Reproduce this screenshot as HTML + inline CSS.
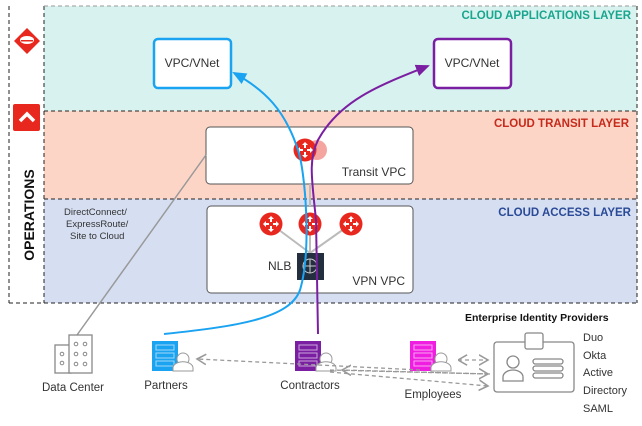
<!DOCTYPE html>
<html><head><style>
body{margin:0;width:642px;height:421px;background:#fff;overflow:hidden;font-family:"Liberation Sans",sans-serif;}
</style></head><body>
<svg width="642" height="421" viewBox="0 0 642 421" xmlns="http://www.w3.org/2000/svg" font-family="Liberation Sans, sans-serif">
<defs>
<marker id="ab" markerWidth="8" markerHeight="8" refX="6" refY="4" orient="auto"><path d="M0,1 L7,4 L0,7 Z" fill="#1aa3f0"/></marker>
<marker id="ap" markerWidth="8" markerHeight="8" refX="6" refY="4" orient="auto"><path d="M0,1 L7,4 L0,7 Z" fill="#7b1fa2"/></marker>
<marker id="ag" markerWidth="10" markerHeight="10" refX="7" refY="5" orient="auto"><path d="M0,1 L7,5 L0,9" fill="none" stroke="#999" stroke-width="1.2"/></marker>
<marker id="agr" markerWidth="10" markerHeight="10" refX="0" refY="5" orient="auto"><path d="M7,1 L0,5 L7,9" fill="none" stroke="#999" stroke-width="1.2"/></marker>
<g id="rt"><circle r="11.5" fill="#e8281e"/><g fill="#fff"><path d="M0,-8 l-3,3 h6z M0,8 l-3,-3 h6z M-8,0 l3,-3 v6z M8,0 l-3,-3 v6z"/><rect x="-1" y="-6" width="2" height="4"/><rect x="-1" y="2" width="2" height="4"/><rect x="-6" y="-1" width="4" height="2"/><rect x="2" y="-1" width="4" height="2"/></g></g>
<g id="srv"><rect x="0" y="0" width="26" height="30" fill="currentColor"/><g fill="none" stroke="#fff" stroke-opacity=".6" stroke-width="1"><rect x="4" y="4" width="18" height="5"/><rect x="4" y="12" width="18" height="5"/><rect x="4" y="20" width="18" height="5"/></g><circle cx="31" cy="18" r="6" fill="#fff" stroke="#999"/><path d="M21,30 v-3 a8,5 0 0 1 20,0 v3z" fill="#fff" stroke="#999"/></g>
</defs>
<rect x="44" y="6" width="593" height="105" fill="#d8f2ef"/>
<rect x="44" y="111" width="593" height="88" fill="#fcd5c6"/>
<rect x="44" y="199" width="593" height="104" fill="#d6dff2"/>
<g fill="none" stroke="#222" stroke-width="1" stroke-dasharray="4,3">
<line x1="9" y1="6" x2="9" y2="303"/><line x1="44" y1="6" x2="44" y2="303"/>
<line x1="44" y1="6" x2="637" y2="6" stroke="#999"/><line x1="637" y1="6" x2="637" y2="303"/>
<line x1="44" y1="111" x2="637" y2="111"/><line x1="44" y1="199" x2="637" y2="199"/>
<line x1="9" y1="303" x2="637" y2="303"/>
</g>
<path d="M27,28 L40,41 L27,54 L14,41Z" fill="#e8281e"/><ellipse cx="27" cy="40" rx="7" ry="4" fill="#fff"/><rect x="21" y="40" width="12" height="1.5" fill="#e8281e"/>
<rect x="13" y="104" width="27" height="27" rx="2" fill="#e8281e"/><path d="M20,121 l7,-7 l7,7" fill="none" stroke="#fff" stroke-width="3.5"/>
<text transform="translate(34,215) rotate(-90)" text-anchor="middle" font-size="14" font-weight="bold" fill="#111">OPERATIONS</text>
<text x="631" y="19" text-anchor="end" font-size="11.5" font-weight="bold" fill="#1aa58e">CLOUD APPLICATIONS LAYER</text>
<text x="629" y="127" text-anchor="end" font-size="11.5" font-weight="bold" fill="#c62a1b">CLOUD TRANSIT LAYER</text>
<text x="631" y="216" text-anchor="end" font-size="11.5" font-weight="bold" fill="#2a4a97">CLOUD ACCESS LAYER</text>
<rect x="154" y="39" width="77" height="49" rx="4" fill="#fff" stroke="#1aa3f0" stroke-width="2.5"/>
<text x="192" y="67" text-anchor="middle" font-size="12" fill="#333">VPC/VNet</text>
<rect x="434" y="39" width="77" height="49" rx="4" fill="#fff" stroke="#7b1fa2" stroke-width="2.5"/>
<text x="472" y="67" text-anchor="middle" font-size="12" fill="#333">VPC/VNet</text>
<rect x="206" y="127" width="207" height="57" rx="4" fill="#fff" stroke="#555"/>
<text x="406" y="176" text-anchor="end" font-size="12" fill="#333">Transit VPC</text>
<rect x="207" y="206" width="206" height="87" rx="4" fill="#fff" stroke="#555"/>
<text x="405" y="285" text-anchor="end" font-size="12" fill="#333">VPN VPC</text>
<text x="64" y="215" font-size="9.5" fill="#333">DirectConnect/</text>
<text x="66" y="227" font-size="9.5" fill="#333">ExpressRoute/</text>
<text x="70" y="239" font-size="9.5" fill="#333">Site to Cloud</text>
<line x1="77" y1="335" x2="206" y2="155" stroke="#999" stroke-width="1.5"/>
<g stroke="#bbb" stroke-width="2"><line x1="271" y1="224" x2="310" y2="253"/><line x1="351" y1="224" x2="310" y2="253"/><line x1="310" y1="224" x2="310" y2="253"/><line x1="310" y1="184" x2="310" y2="206"/></g>
<circle cx="317" cy="150" r="10" fill="#f4a5a0"/>
<use href="#rt" x="305" y="150"/>
<use href="#rt" x="271" y="224"/><use href="#rt" x="310" y="224"/><use href="#rt" x="351" y="224"/>
<rect x="297" y="253" width="27" height="27" fill="#232f3e"/><circle cx="310" cy="266" r="7" fill="none" stroke="#ccc"/><path d="M303,266 h14 M310,259 v14" stroke="#ccc"/>
<text x="268" y="270" font-size="12" fill="#333">NLB</text>
<path d="M164,334 C240,326 290,318 300,290 C312,250 305,170 298,150 C285,110 265,90 234,73" fill="none" stroke="#1aa3f0" stroke-width="2" marker-end="url(#ab)"/>
<path d="M318,334 L316,220 C312,180 308,160 318,140 C340,100 380,85 428,66" fill="none" stroke="#7b1fa2" stroke-width="2" marker-end="url(#ap)"/>
<g fill="#fff" stroke="#888" stroke-width="1.3"><rect x="55" y="345" width="16" height="28"/><rect x="69" y="335" width="23" height="38"/></g>
<g fill="none" stroke="#888"><circle cx="62" cy="354" r="1.8"/><circle cx="62" cy="363" r="1.8"/><circle cx="76" cy="344" r="1.8"/><circle cx="85" cy="344" r="1.8"/><circle cx="76" cy="354" r="1.8"/><circle cx="85" cy="354" r="1.8"/><circle cx="76" cy="364" r="1.8"/><circle cx="85" cy="364" r="1.8"/></g>
<text x="73" y="391" text-anchor="middle" font-size="11.5" fill="#333">Data Center</text>
<use href="#srv" x="152" y="341" style="color:#1aa3f0"/>
<text x="166" y="389" text-anchor="middle" font-size="11.5" fill="#333">Partners</text>
<use href="#srv" x="295" y="341" style="color:#7b1fa2"/>
<text x="310" y="389" text-anchor="middle" font-size="11.5" fill="#333">Contractors</text>
<use href="#srv" x="410" y="341" style="color:#f01ee0"/>
<text x="433" y="398" text-anchor="middle" font-size="11.5" fill="#333">Employees</text>
<g fill="none" stroke="#999" stroke-width="1.3" stroke-dasharray="4,3">
<line x1="420" y1="370" x2="197" y2="359" marker-end="url(#ag)"/>
<line x1="490" y1="374" x2="342" y2="370" marker-end="url(#ag)"/>
<line x1="330" y1="370" x2="488" y2="374" marker-end="url(#ag)"/>
<line x1="330" y1="372" x2="488" y2="386" marker-end="url(#ag)"/>
<line x1="458" y1="360" x2="488" y2="360" marker-start="url(#agr)" marker-end="url(#ag)"/>
</g>
<rect x="494" y="342" width="80" height="50" rx="3" fill="#fff" stroke="#888" stroke-width="1.3"/>
<rect x="525" y="333" width="18" height="16" rx="2" fill="#fff" stroke="#888" stroke-width="1.3"/>
<circle cx="513" cy="362" r="6" fill="none" stroke="#888" stroke-width="1.3"/>
<path d="M503,381 v-4 a10,7 0 0 1 20,0 v4z" fill="none" stroke="#888" stroke-width="1.3"/>
<g fill="none" stroke="#888" stroke-width="1.3"><rect x="533" y="359" width="30" height="5" rx="2.5"/><rect x="533" y="366" width="30" height="5" rx="2.5"/><rect x="533" y="373" width="30" height="5" rx="2.5"/></g>
<text x="465" y="321" font-size="10.5" font-weight="bold" fill="#111">Enterprise Identity Providers</text>
<g font-size="11" fill="#333"><text x="583" y="341">Duo</text><text x="583" y="359">Okta</text><text x="583" y="376">Active</text><text x="583" y="394">Directory</text><text x="583" y="412">SAML</text></g>
</svg>
</body></html>
